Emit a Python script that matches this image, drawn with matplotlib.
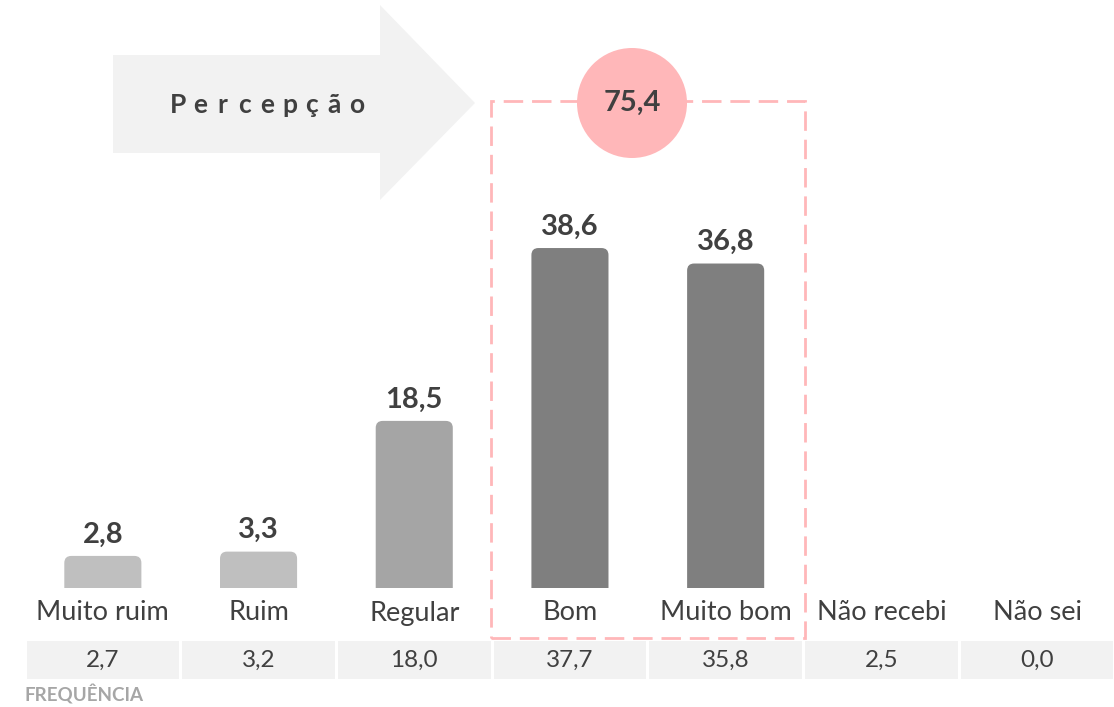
"""Percepção: bar chart with frequency row, arrow banner and highlighted top-two box."""

import matplotlib

matplotlib.use("Agg")
import matplotlib.pyplot as plt
import matplotlib.transforms as mtransforms
from matplotlib.patches import Circle, FancyBboxPatch, Polygon, Rectangle

plt.rcParams["font.family"] = ["Lato", "DejaVu Sans"]

categories = ["Muito ruim", "Ruim", "Regular", "Bom", "Muito bom", "Não recebi", "Não sei"]
perception = [2.8, 3.3, 18.5, 38.6, 36.8]
frequency = [2.7, 3.2, 18.0, 37.7, 35.8, 2.5, 0.0]
top_two = 75.4
highlight = ("Bom", "Muito bom")
banner = "Percepção"

bar_colors = ["#bfbfbf", "#bfbfbf", "#a5a5a5", "#7f7f7f", "#7f7f7f"]
TEXT = "#404040"
PINK = "#ffb7b9"
LIGHT = "#f2f2f2"

W, H = 1114, 707


def fmt(v):
    return f"{v:.1f}".replace(".", ",")


fig = plt.figure(figsize=(W / 100, H / 100), dpi=100)

# main bar axes (pixel layout: zero at y=580, 8.6 px per unit, bars start at 588)
left_px, col_px = 25, 155.7
zero_px, floor_px, top_px, px_per_unit = 580, 588, 200, 8.6
ax = fig.add_axes([left_px / W, (H - floor_px) / H, 7 * col_px / W, (floor_px - top_px) / H])
ax.set_xlim(-0.5, len(categories) - 0.5)
ax.set_ylim(-(floor_px - zero_px) / px_per_unit, (zero_px - top_px) / px_per_unit)

xs = list(range(len(perception)))
bars = ax.bar(xs, perception, width=0.495, color=bar_colors)
aspect = col_px / px_per_unit
for bar, color in zip(bars, bar_colors):
    bar.set_visible(False)
    x0, w, h = bar.get_x(), bar.get_width(), bar.get_height()
    ax.add_patch(
        FancyBboxPatch(
            (x0, -3), w, h + 3,
            boxstyle="round,pad=0,rounding_size=0.045",
            mutation_aspect=aspect,
            facecolor=color, edgecolor="none", clip_on=True,
        )
    )
for x, v in zip(xs, perception):
    ax.annotate(fmt(v), (x, v), xytext=(0, 6), textcoords="offset points",
                ha="center", va="bottom", fontsize=21, fontweight="bold", color=TEXT)

ax.set_xticks(range(len(categories)), categories, fontsize=19.5, color=TEXT)
ax.tick_params(axis="x", length=0, pad=9)
ax.set_yticks([])
for sp in ax.spines.values():
    sp.set_visible(False)
ax.patch.set_visible(False)

# frequency row
blend = mtransforms.blended_transform_factory(ax.transData, fig.transFigure)
cell_y0, cell_h = (H - 679) / H, 38 / H
for i, f in enumerate(frequency):
    fig.add_artist(Rectangle((i - 0.49, cell_y0), 0.98, cell_h, transform=blend,
                             facecolor=LIGHT, edgecolor="none"))
    fig.text(i, cell_y0 + cell_h / 2, fmt(f), transform=blend, ha="center",
             va="center", fontsize=17.5, color=TEXT)
fig.text(25 / W, (H - 695) / H, "FREQUÊNCIA", ha="left", va="center",
         fontsize=13.5, fontweight="bold", color="#a6a6a6")

# highlight box around top-two categories
i0 = categories.index(highlight[0])
i1 = categories.index(highlight[1])
fig.add_artist(Rectangle((i0 - 0.51, (H - 638) / H), (i1 - i0) + 1.02, (638 - 101) / H,
                         transform=blend, facecolor="none", edgecolor=PINK,
                         linewidth=2, linestyle=(0, (7, 3.2))))

# decorations in pixel coordinates
deco = fig.add_axes([0, 0, 1, 1], zorder=3)
deco.set_xlim(0, W)
deco.set_ylim(H, 0)
deco.axis("off")
deco.patch.set_visible(False)
arrow = [(113, 55), (380, 55), (380, 5), (475, 103), (380, 200), (380, 153), (113, 153)]
deco.add_patch(Polygon(arrow, closed=True, facecolor=LIGHT, edgecolor="none"))
for k, ch in enumerate(banner):
    deco.text(178 + 22.3 * k, 105, ch, ha="center", va="center",
              fontsize=19, fontweight="bold", color=TEXT)
deco.add_patch(Circle((632, 103), 55, facecolor=PINK, edgecolor="none"))
deco.text(632, 103, fmt(top_two), ha="center", va="center",
          fontsize=21, fontweight="bold", color=TEXT)

fig.savefig("out.png", dpi=100)
